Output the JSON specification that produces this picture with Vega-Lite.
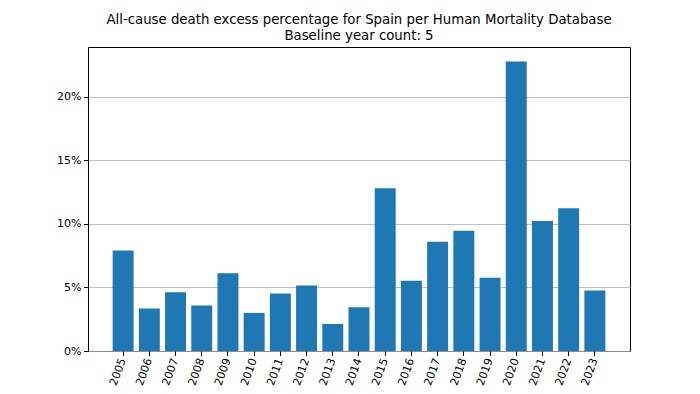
{
  "$schema": "https://vega.github.io/schema/vega-lite/v6.json",
  "width": 542,
  "height": 304,
  "autosize": {"type": "none"},
  "padding": {"left": 88, "top": 47, "right": 70, "bottom": 43},
  "background": "white",
  "title": {
    "text": ["All-cause death excess percentage for Spain per Human Mortality Database", "Baseline year count: 5"],
    "font": "DejaVu Sans",
    "fontSize": 13.3,
    "fontWeight": "normal",
    "color": "black",
    "anchor": "middle",
    "lineHeight": 16,
    "offset": 5
  },
  "config": {
    "view": {"stroke": "black", "strokeWidth": 1},
    "axis": {
      "labelFont": "DejaVu Sans",
      "labelFontSize": 11,
      "labelColor": "black",
      "domain": false,
      "tickColor": "black",
      "tickSize": 4.5,
      "title": null
    }
  },
  "data": {
    "values": [
      {"year": "2005", "excess": 0.0792},
      {"year": "2006", "excess": 0.0334},
      {"year": "2007", "excess": 0.0463},
      {"year": "2008", "excess": 0.0358},
      {"year": "2009", "excess": 0.0613},
      {"year": "2010", "excess": 0.0300},
      {"year": "2011", "excess": 0.0453},
      {"year": "2012", "excess": 0.0516},
      {"year": "2013", "excess": 0.0213},
      {"year": "2014", "excess": 0.0345},
      {"year": "2015", "excess": 0.1282},
      {"year": "2016", "excess": 0.0553},
      {"year": "2017", "excess": 0.0860},
      {"year": "2018", "excess": 0.0947},
      {"year": "2019", "excess": 0.0576},
      {"year": "2020", "excess": 0.2279},
      {"year": "2021", "excess": 0.1024},
      {"year": "2022", "excess": 0.1124},
      {"year": "2023", "excess": 0.0476}
    ]
  },
  "mark": {"type": "bar", "color": "#1f77b4"},
  "encoding": {
    "x": {
      "field": "year",
      "type": "nominal",
      "sort": null,
      "scale": {"paddingInner": 0.2, "paddingOuter": 0.94},
      "axis": {"labelAngle": -70, "labelAlign": "right", "labelBaseline": "middle", "grid": false, "labelPadding": 3}
    },
    "y": {
      "field": "excess",
      "type": "quantitative",
      "scale": {"domain": [0, 0.2393], "nice": false},
      "axis": {"values": [0, 0.05, 0.1, 0.15, 0.2], "format": ".0%", "grid": true, "gridColor": "#b0b0b0", "gridWidth": 0.8, "labelPadding": 2.5}
    }
  }
}
